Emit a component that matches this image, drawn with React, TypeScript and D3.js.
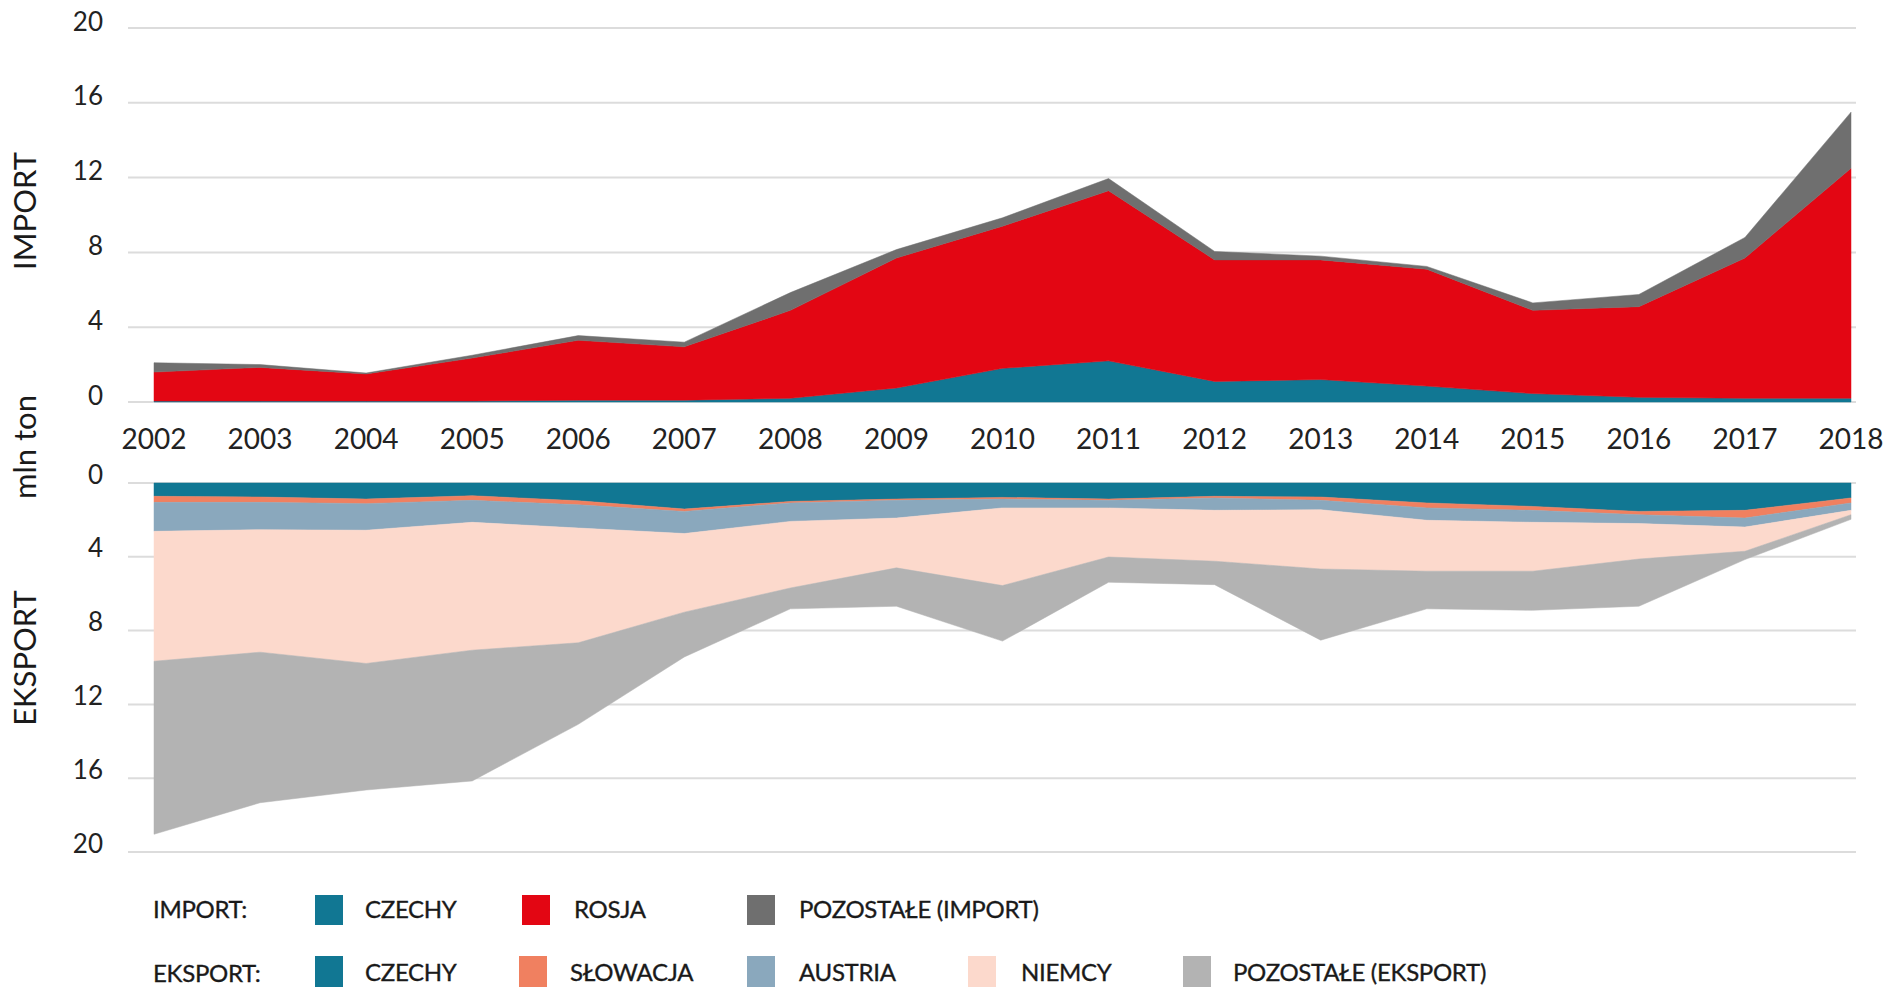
import React from 'react';
import * as d3 from 'd3';

// lata na osi X
const years = [2002, 2003, 2004, 2005, 2006, 2007, 2008, 2009, 2010, 2011, 2012, 2013, 2014, 2015, 2016, 2017, 2018];
const yTicks = [0, 4, 8, 12, 16, 20];

// IMPORT (mln ton)
const importCzechy = [0.05, 0.05, 0.05, 0.05, 0.1, 0.1, 0.2, 0.75, 1.8, 2.2, 1.1, 1.2, 0.85, 0.45, 0.25, 0.2, 0.2];
const importRosja = [1.55, 1.8, 1.45, 2.3, 3.2, 2.85, 4.7, 6.95, 7.6, 9.1, 6.5, 6.4, 6.25, 4.45, 4.85, 7.5, 12.3];
const importPozostale = [0.5, 0.15, 0.05, 0.15, 0.25, 0.25, 0.95, 0.45, 0.45, 0.65, 0.45, 0.2, 0.15, 0.4, 0.65, 1.1, 3.0];

// EKSPORT (mln ton)
const eksportCzechy = [0.72, 0.76, 0.87, 0.69, 0.96, 1.41, 1.0, 0.87, 0.78, 0.87, 0.72, 0.76, 1.08, 1.27, 1.54, 1.48, 0.81];
const eksportSlowacja = [0.33, 0.29, 0.25, 0.25, 0.22, 0.13, 0.08, 0.07, 0.09, 0.07, 0.09, 0.18, 0.27, 0.21, 0.18, 0.42, 0.27];
const eksportAustria = [1.57, 1.48, 1.44, 1.19, 1.26, 1.2, 1.0, 0.96, 0.48, 0.41, 0.67, 0.51, 0.67, 0.65, 0.48, 0.49, 0.4];
const eksportNiemcy = [7.04, 6.64, 7.22, 6.93, 6.22, 4.26, 3.61, 2.7, 4.21, 2.66, 2.76, 3.21, 2.76, 2.65, 1.92, 1.31, 0.24];
const eksportPozostale = [9.38, 8.16, 6.86, 7.09, 4.42, 2.43, 1.13, 2.08, 3.01, 1.37, 1.27, 3.86, 2.04, 2.12, 2.56, 0.45, 0.25];

const importKeys = ['czechy', 'rosja', 'pozostale'];
const importColors = { czechy: '#117793', rosja: '#e30613', pozostale: '#6f6f6f' };
const eksportKeys = ['czechy', 'slowacja', 'austria', 'niemcy', 'pozostale'];
const eksportColors = { czechy: '#117793', slowacja: '#f08060', austria: '#8aa8bd', niemcy: '#fcd9cc', pozostale: '#b3b3b3' };

const FONT = 'Lato, "Open Sans", sans-serif';

const App = () => {
  const width = 1883;
  const height = 990;
  const gridLeft = 128;
  const gridRight = 1856;

  const x = d3.scaleLinear().domain([2002, 2018]).range([154, 1851]);
  const yImport = d3.scaleLinear().domain([0, 20]).range([402, 28]);
  const yEksport = d3.scaleLinear().domain([0, 20]).range([483, 852]);

  const importRows = years.map((year, i) => ({
    year, czechy: importCzechy[i], rosja: importRosja[i], pozostale: importPozostale[i]
  }));
  const eksportRows = years.map((year, i) => ({
    year,
    czechy: eksportCzechy[i],
    slowacja: eksportSlowacja[i],
    austria: eksportAustria[i],
    niemcy: eksportNiemcy[i],
    pozostale: eksportPozostale[i]
  }));

  const importStack = d3.stack().keys(importKeys)(importRows as any);
  const eksportStack = d3.stack().keys(eksportKeys)(eksportRows as any);

  const areaImport = d3.area<any>()
    .x(d => x(d.data.year))
    .y0(d => yImport(d[0]))
    .y1(d => yImport(d[1]));

  const areaEksport = d3.area<any>()
    .x(d => x(d.data.year))
    .y0(d => yEksport(d[0]))
    .y1(d => yEksport(d[1]));

  // legenda: dwa wiersze
  const legendImport = [
    { color: importColors.czechy, label: 'CZECHY', sx: 315, tx: 365 },
    { color: importColors.rosja, label: 'ROSJA', sx: 522, tx: 574 },
    { color: importColors.pozostale, label: 'POZOSTAŁE (IMPORT)', sx: 747, tx: 799 }
  ];
  const legendEksport = [
    { color: eksportColors.czechy, label: 'CZECHY', sx: 315, tx: 365 },
    { color: eksportColors.slowacja, label: 'SŁOWACJA', sx: 519, tx: 570 },
    { color: eksportColors.austria, label: 'AUSTRIA', sx: 747, tx: 799 },
    { color: eksportColors.niemcy, label: 'NIEMCY', sx: 968, tx: 1021 },
    { color: eksportColors.pozostale, label: 'POZOSTAŁE (EKSPORT)', sx: 1183, tx: 1233 }
  ];

  const legendText = { fontSize: 24, fill: '#1a1a1a', letterSpacing: -0.3, stroke: '#1a1a1a', strokeWidth: 0.35 };

  return (
    <svg width={width} height={height}
      style={{ position: 'absolute', left: 0, top: 0, background: '#fff' }}
      fontFamily={FONT}>
      {/* siatka */}
      {yTicks.map(t => (
        <line key={'gi' + t} x1={gridLeft} x2={gridRight} y1={yImport(t)} y2={yImport(t)}
          stroke="#dcdcdc" strokeWidth={2} />
      ))}
      {yTicks.map(t => (
        <line key={'ge' + t} x1={gridLeft} x2={gridRight} y1={yEksport(t)} y2={yEksport(t)}
          stroke="#dcdcdc" strokeWidth={2} />
      ))}

      {/* obszary importu */}
      {importStack.map(s => (
        <path key={'ai' + s.key} d={areaImport(s as any) || ''}
          fill={importColors[s.key]} stroke={importColors[s.key]} strokeWidth={0.5} />
      ))}
      {/* obszary eksportu */}
      {eksportStack.map(s => (
        <path key={'ae' + s.key} d={areaEksport(s as any) || ''}
          fill={eksportColors[s.key]} stroke={eksportColors[s.key]} strokeWidth={0.5} />
      ))}

      {/* etykiety osi Y */}
      {yTicks.map(t => (
        <text key={'ti' + t} x={103} y={yImport(t) - 4} textAnchor="end" dominantBaseline="middle"
          fontSize={26} fill="#222">{t}</text>
      ))}
      {yTicks.map(t => (
        <text key={'te' + t} x={103} y={yEksport(t) - 6} textAnchor="end" dominantBaseline="middle"
          fontSize={26} fill="#222">{t}</text>
      ))}

      {/* lata */}
      {years.map(yr => (
        <text key={'yr' + yr} x={x(yr)} y={442} textAnchor="middle" dominantBaseline="middle"
          fontSize={28} fill="#222">{yr}</text>
      ))}

      {/* tytuły osi */}
      <text transform="translate(28,211) rotate(-90)" textAnchor="middle" dominantBaseline="middle"
        fontSize={31} fill="#1a1a1a">IMPORT</text>
      <text transform="translate(28,447) rotate(-90)" textAnchor="middle" dominantBaseline="middle"
        fontSize={31} fill="#1a1a1a">mln ton</text>
      <text transform="translate(28,658) rotate(-90)" textAnchor="middle" dominantBaseline="middle"
        fontSize={31} fill="#1a1a1a">EKSPORT</text>

      {/* legenda */}
      <text x={153} y={912} dominantBaseline="middle" {...legendText}>IMPORT:</text>
      {legendImport.map(l => (
        <g key={'li' + l.label}>
          <rect x={l.sx} y={895} width={28} height={30} fill={l.color} />
          <text x={l.tx} y={912} dominantBaseline="middle" {...legendText}>{l.label}</text>
        </g>
      ))}
      <text x={153} y={976} dominantBaseline="middle" {...legendText}>EKSPORT:</text>
      {legendEksport.map(l => (
        <g key={'le' + l.label}>
          <rect x={l.sx} y={956} width={28} height={31} fill={l.color} />
          <text x={l.tx} y={975} dominantBaseline="middle" {...legendText}>{l.label}</text>
        </g>
      ))}
    </svg>
  );
};

export default App;
